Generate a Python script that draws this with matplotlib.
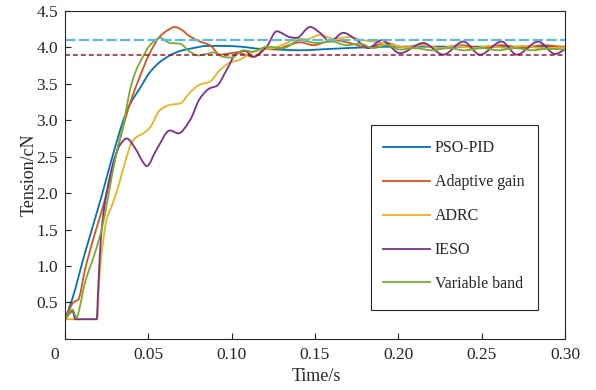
import matplotlib
matplotlib.use("Agg")
import numpy as np
import matplotlib.pyplot as plt
from matplotlib.path import Path
from matplotlib.patches import PathPatch, Rectangle
from matplotlib.lines import Line2D
from matplotlib.transforms import ScaledTranslation

plt.rcParams['font.family'] = ['Liberation Serif', 'DejaVu Serif']

# ---------------- data ----------------
series_names = ["PSO-PID", "Adaptive gain", "ADRC", "IESO", "Variable band"]
series_colors = ["#0072BD", "#D95319", "#EDB120", "#7E2F8E", "#77AC30"]

pso_t = [0, 0.004, 0.012, 0.022, 0.027, 0.032, 0.035, 0.039, 0.045, 0.051, 0.057,
         0.063, 0.069, 0.077, 0.085, 0.095, 0.105, 0.117, 0.128, 0.141, 0.160,
         0.181, 0.200, 0.250, 0.300]
pso_v = [0.27, 0.52, 1.18, 1.96, 2.38, 2.78, 3.00, 3.22, 3.44, 3.66, 3.80,
         3.89, 3.95, 3.99, 4.02, 4.02, 4.01, 3.98, 3.97, 3.96, 3.98,
         4.00, 4.01, 4.01, 4.01]

ada_t = [0, 0.003, 0.005, 0.008, 0.012, 0.018, 0.022, 0.026, 0.030, 0.036, 0.040,
         0.045, 0.050, 0.057, 0.062, 0.066, 0.070, 0.075, 0.081, 0.087, 0.093,
         0.097, 0.103, 0.108, 0.113, 0.121, 0.127, 0.133, 0.141, 0.149, 0.161,
         0.171, 0.181, 0.193, 0.203, 0.213, 0.225, 0.237, 0.250, 0.262, 0.275,
         0.287, 0.300]
ada_v = [0.27, 0.42, 0.50, 0.54, 0.95, 1.45, 1.75, 2.09, 2.46, 3.00, 3.30,
         3.60, 3.88, 4.15, 4.24, 4.28, 4.24, 4.15, 4.08, 4.03, 3.90,
         3.91, 3.93, 3.90, 3.87, 3.99, 3.98, 4.02, 4.07, 4.03, 4.10,
         4.06, 4.00, 4.06, 4.00, 4.03, 3.99, 4.03, 3.99, 4.03, 3.99,
         4.03, 4.00]

adrc_t = [0, 0.0194, 0.0204, 0.0216, 0.023, 0.025, 0.028, 0.032, 0.036, 0.040, 0.043,
          0.047, 0.051, 0.057, 0.063, 0.069, 0.075, 0.081, 0.087, 0.093, 0.099,
          0.105, 0.111, 0.117, 0.123, 0.133, 0.139, 0.145, 0.153, 0.161, 0.171,
          0.178, 0.185, 0.195, 0.205, 0.215, 0.225, 0.235, 0.245, 0.255, 0.265,
          0.275, 0.285, 0.300]
adrc_v = [0.27, 0.27, 0.72, 1.09, 1.36, 1.64, 1.82, 2.09, 2.42, 2.69, 2.77,
          2.82, 2.90, 3.14, 3.21, 3.23, 3.38, 3.49, 3.53, 3.69, 3.79,
          3.83, 3.92, 3.97, 3.98, 4.06, 4.12, 4.11, 4.17, 4.12, 4.14,
          4.10, 4.08, 4.04, 4.00, 4.03, 3.99, 4.02, 3.99, 4.02, 3.99,
          4.02, 3.99, 4.00]

ieso_t = [0, 0.0046, 0.0062, 0.019, 0.020, 0.021, 0.022, 0.024, 0.027, 0.030, 0.033,
          0.037, 0.042, 0.047, 0.049, 0.055, 0.063, 0.068, 0.075, 0.081, 0.087,
          0.091, 0.097, 0.103, 0.108, 0.113, 0.121, 0.127, 0.135, 0.139, 0.147,
          0.153, 0.159, 0.167, 0.175, 0.182, 0.190, 0.201, 0.215, 0.227, 0.239,
          0.249, 0.262, 0.271, 0.284, 0.294, 0.300]
ieso_v = [0.27, 0.38, 0.27, 0.27, 0.72, 1.18, 1.50, 1.87, 2.23, 2.50, 2.66,
          2.75, 2.62, 2.42, 2.37, 2.60, 2.86, 2.82, 3.00, 3.30, 3.44,
          3.47, 3.69, 3.92, 3.95, 3.87, 4.01, 4.22, 4.14, 4.13, 4.28,
          4.20, 4.08, 4.20, 4.10, 3.99, 4.10, 3.92, 4.06, 3.90, 4.08,
          3.90, 4.08, 3.90, 4.08, 3.91, 3.97]

vb_t = [0, 0.0046, 0.007, 0.009, 0.012, 0.018, 0.022, 0.026, 0.030, 0.0356, 0.0375,
        0.0395, 0.043, 0.047, 0.051, 0.057, 0.063, 0.069, 0.075, 0.080, 0.085,
        0.089, 0.095, 0.100, 0.107, 0.113, 0.121, 0.131, 0.141, 0.151, 0.160,
        0.169, 0.177, 0.185, 0.193, 0.201, 0.210, 0.220, 0.230, 0.240, 0.250,
        0.260, 0.270, 0.280, 0.290, 0.300]
vb_v = [0.27, 0.40, 0.29, 0.45, 0.77, 1.18, 1.50, 1.96, 2.46, 3.00, 3.24,
        3.46, 3.70, 3.88, 4.03, 4.13, 4.06, 4.05, 3.94, 3.89, 3.91,
        3.93, 3.87, 3.86, 3.96, 3.94, 4.01, 3.99, 4.10, 4.06, 4.08,
        4.03, 4.05, 3.99, 4.03, 3.97, 3.99, 3.96, 3.99, 3.96, 3.99,
        3.96, 3.99, 3.96, 3.98, 3.97]

upper_band = 4.1
lower_band = 3.9

x_ticks = [0, 0.05, 0.10, 0.15, 0.20, 0.25, 0.30]
x_tick_labels = ["0", "0.05", "0.10", "0.15", "0.20", "0.25", "0.30"]
y_ticks = [0.5, 1.0, 1.5, 2.0, 2.5, 3.0, 3.5, 4.0, 4.5]
y_tick_labels = ["0.5", "1.0", "1.5", "2.0", "2.5", "3.0", "3.5", "4.0", "4.5"]


def smooth_path(t, v):
    """Monotone (PCHIP-type) cubic Bezier path through the read points."""
    t = np.asarray(t, float)
    v = np.asarray(v, float)
    h = np.diff(t)
    d = np.diff(v) / h
    m = np.zeros_like(v)
    m[0] = d[0]
    m[-1] = d[-1]
    for k in range(1, len(v) - 1):
        if d[k - 1] * d[k] <= 0:
            m[k] = 0.0
        else:
            w1 = 2 * h[k] + h[k - 1]
            w2 = h[k] + 2 * h[k - 1]
            m[k] = (w1 + w2) / (w1 / d[k - 1] + w2 / d[k])
    verts = [(t[0], v[0])]
    codes = [Path.MOVETO]
    for i in range(len(h)):
        verts += [(t[i] + h[i] / 3, v[i] + m[i] * h[i] / 3),
                  (t[i + 1] - h[i] / 3, v[i + 1] - m[i + 1] * h[i] / 3),
                  (t[i + 1], v[i + 1])]
        codes += [Path.CURVE4] * 3
    return Path(verts, codes)


fig = plt.figure(figsize=(5.96, 3.90), dpi=100)
ax = fig.add_axes([0.109, 0.131, 0.839, 0.841])

all_t = [pso_t, ada_t, adrc_t, ieso_t, vb_t]
all_v = [pso_v, ada_v, adrc_v, ieso_v, vb_v]
handles = []
for tt, vv, c, name in zip(all_t, all_v, series_colors, series_names):
    patch = PathPatch(smooth_path(tt, vv), fill=False, edgecolor=c, lw=1.3,
                      capstyle='round', joinstyle='round')
    ax.add_patch(patch)
    handles.append(Line2D([], [], color=c, lw=1.3, label=name))

ax.axhline(upper_band, color="#4DBEEE", lw=1.5, ls=(0, (5, 1.6)))
ax.axhline(lower_band, color="#A2142F", lw=1.1, ls=(0, (3.2, 2.0)))

ax.set_xlim(0, 0.30)
ax.set_ylim(0, 4.5)
ax.set_xticks(x_ticks)
ax.set_xticklabels(x_tick_labels)
ax.set_yticks(y_ticks)
ax.set_yticklabels(y_tick_labels)

spine_c = "#262626"
for s in ax.spines.values():
    s.set_color(spine_c)
    s.set_linewidth(0.8)
ax.tick_params(direction='in', length=4, width=0.8, color=spine_c,
               labelsize=12.5, labelcolor="#262626")
ax.tick_params(axis='x', pad=5.5)
ax.tick_params(axis='y', pad=5)

# shift the "0" origin label slightly to the left, as in the reference
lbl0 = ax.get_xticklabels()[0]
lbl0.set_transform(lbl0.get_transform() + ScaledTranslation(-0.10, 0, fig.dpi_scale_trans))

ax.set_xlabel("Time/s", fontsize=13, color="#262626")
ax.set_ylabel("Tension/cN", fontsize=13, color="#262626")
ax.xaxis.set_label_coords(0.502, -0.09)
ax.yaxis.set_label_coords(-0.055, 0.5)

# legend box (frame drawn separately so horizontal / vertical padding differ)
frame = Rectangle((0.612, 0.088), 0.334, 0.564, transform=ax.transAxes,
                  facecolor="white", edgecolor=spine_c, lw=0.8, zorder=4.9)
ax.add_patch(frame)
leg = ax.legend(handles=handles, loc='upper left', bbox_to_anchor=(0.636, 0.605),
                borderaxespad=0, borderpad=0, fontsize=11.5, frameon=False,
                handlelength=2.94, handletextpad=0.31, labelspacing=1.12)
leg.set_zorder(5)
for tx in leg.get_texts():
    tx.set_color("#262626")

fig.savefig("out.png", dpi=100)
